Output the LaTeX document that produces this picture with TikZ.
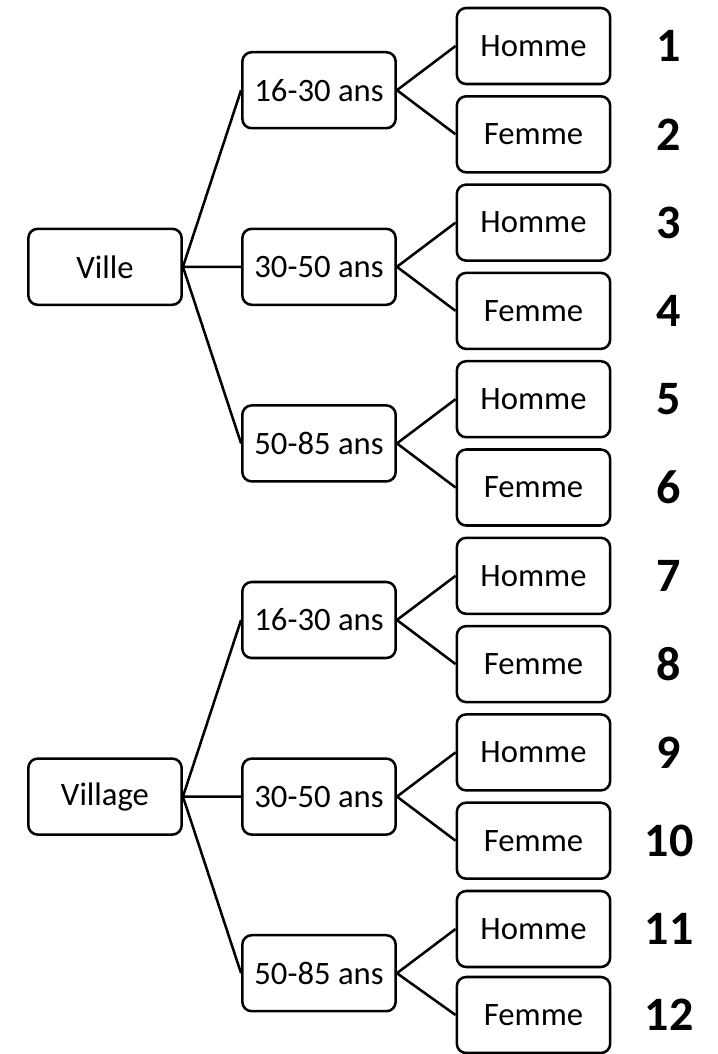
\documentclass[tikz,border=0pt]{standalone}
\usepackage{fontspec}
\setmainfont{Carlito}

\tikzset{every picture/.style={line width=1.9pt}}
\tikzset{
  boxnode/.style={draw, rounded corners=7pt, minimum width=115pt, minimum height=57pt, inner sep=0pt, font=\fontsize{24.5}{28}\selectfont},
  numnode/.style={inner sep=0pt, font=\fontsize{36}{40}\selectfont\bfseries}
}

\begin{document}
\begin{tikzpicture}[x=0.75pt,y=0.75pt,yscale=-1,xscale=1]
\useasboundingbox (0,0) rectangle (718,1054);

% Root nodes
\node [boxnode] (ville) at (105,266.8) {Ville};
\node [boxnode] (village) at (105,796.6) {Village};

% Age nodes
\node [boxnode] (vi1) at (319,90.2) {16-30 ans};
\node [boxnode] (vi2) at (319,266.8) {30-50 ans};
\node [boxnode] (vi3) at (319,443.4) {50-85 ans};
\node [boxnode] (va1) at (319,620) {16-30 ans};
\node [boxnode] (va2) at (319,796.6) {30-50 ans};
\node [boxnode] (va3) at (319,973.2) {50-85 ans};

% Leaf nodes
\node [boxnode] (h1) at (533.5,46) {Homme};
\node [boxnode] (f2) at (533.5,134.3) {Femme};
\node [boxnode] (h3) at (533.5,222.6) {Homme};
\node [boxnode] (f4) at (533.5,310.9) {Femme};
\node [boxnode] (h5) at (533.5,399.2) {Homme};
\node [boxnode] (f6) at (533.5,487.5) {Femme};
\node [boxnode] (h7) at (533.5,575.8) {Homme};
\node [boxnode] (f8) at (533.5,664.1) {Femme};
\node [boxnode] (h9) at (533.5,752.4) {Homme};
\node [boxnode] (f10) at (533.5,840.7) {Femme};
\node [boxnode] (h11) at (533.5,929) {Homme};
\node [boxnode] (f12) at (533.5,1015) {Femme};

% Numbers
\node [numnode] (n1) at (669,46) {1};
\node [numnode] (n2) at (669,134.3) {2};
\node [numnode] (n3) at (669,222.6) {3};
\node [numnode] (n4) at (669,310.9) {4};
\node [numnode] (n5) at (669,399.2) {5};
\node [numnode] (n6) at (669,487.5) {6};
\node [numnode] (n7) at (669,575.8) {7};
\node [numnode] (n8) at (669,664.1) {8};
\node [numnode] (n9) at (669,752.4) {9};
\node [numnode] (n10) at (669,840.7) {10};
\node [numnode] (n11) at (669,929) {11};
\node [numnode] (n12) at (669,1015) {12};

% Root to age lines
\draw (ville.east) -- (vi1.west) (ville.east) -- (vi2.west) (ville.east) -- (vi3.west) ;
\draw (village.east) -- (va1.west) (village.east) -- (va2.west) (village.east) -- (va3.west) ;

% Age to leaf lines
\draw (vi1.east) -- (h1.west) (vi1.east) -- (f2.west) ;
\draw (vi2.east) -- (h3.west) (vi2.east) -- (f4.west) ;
\draw (vi3.east) -- (h5.west) (vi3.east) -- (f6.west) ;
\draw (va1.east) -- (h7.west) (va1.east) -- (f8.west) ;
\draw (va2.east) -- (h9.west) (va2.east) -- (f10.west) ;
\draw (va3.east) -- (h11.west) (va3.east) -- (f12.west) ;

\end{tikzpicture}
\end{document}
